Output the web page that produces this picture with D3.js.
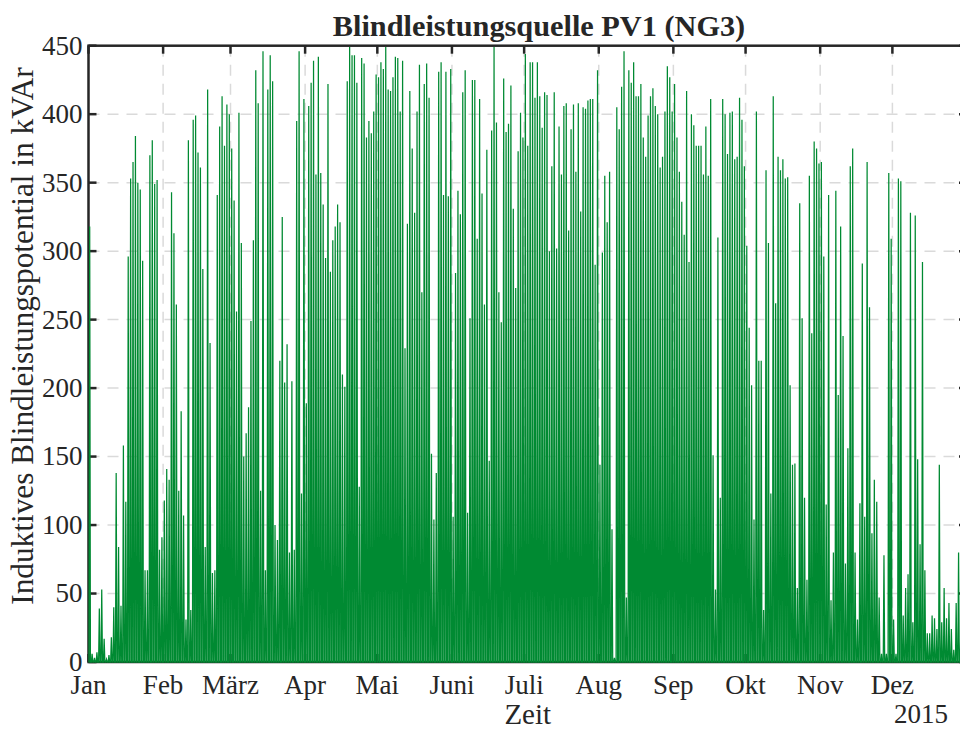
<!DOCTYPE html>
<html>
<head>
<meta charset="utf-8">
<script src="https://cdn.jsdelivr.net/npm/d3@7/dist/d3.min.js"></script>
<style>
  body { margin: 0; background: #ffffff; }
  svg { display: block; }
  text { font-family: "Liberation Serif", "Times New Roman", serif; fill: #262626; }
</style>
</head>
<body>
<svg id="chart" width="960" height="730"></svg>
<script>
// ---------- data ----------
const titleText = "Blindleistungsquelle PV1 (NG3)";
const yLabelText = "Induktives Blindleistungspotential in kVAr";
const xLabelText = "Zeit";
const yearLabel = "2015";

const monthLabels = ["Jan", "Feb", "März", "Apr", "Mai", "Juni", "Juli", "Aug", "Sep", "Okt", "Nov", "Dez"];
const monthStartDays = [0, 31, 59, 90, 120, 151, 181, 212, 243, 273, 304, 334];
const yTicks = [0, 50, 100, 150, 200, 250, 300, 350, 400, 450];

// daily peak of the inductive reactive power potential (kVAr)
const peaksJan = [318, 6, 3, 7, 39, 53, 17, 2, 5, 18, 40, 138, 84, 41, 158, 117, 296, 353, 365, 384, 350, 345, 293, 67, 67, 370, 381, 349, 352, 82, 91];
const peaksFeb = [118, 141, 133, 343, 313, 261, 125, 183, 107, 31, 381, 38, 396, 399, 372, 361, 287, 84, 418, 233, 65, 67, 341, 391, 413, 377, 407, 400];
const peaksMar = [375, 337, 256, 401, 306, 150, 167, 186, 249, 308, 432, 408, 125, 446, 67, 418, 443, 424, 100, 89, 220, 325, 204, 232, 80, 205, 82, 395, 446, 123, 411];
const peaksApr = [189, 406, 423, 439, 356, 442, 357, 334, 295, 422, 285, 308, 318, 334, 321, 210, 201, 424, 449, 443, 443, 423, 128, 441, 437, 383, 395, 386, 402, 429];
const peaksMai = [427, 438, 433, 449, 418, 417, 427, 442, 441, 402, 439, 229, 320, 417, 375, 328, 402, 436, 270, 422, 437, 412, 152, 104, 138, 431, 438, 341, 431, 340, 433];
const peaksJun = [106, 284, 344, 327, 416, 432, 109, 251, 425, 425, 309, 411, 342, 261, 374, 147, 388, 449, 394, 270, 248, 426, 387, 393, 421, 331, 273, 373, 401, 383];
const peaksJul = [444, 377, 438, 438, 412, 438, 413, 390, 416, 414, 300, 362, 416, 302, 391, 356, 406, 408, 315, 389, 407, 358, 408, 329, 405, 404, 410, 411, 411, 290, 432];
const peaksAug = [144, 299, 355, 321, 358, 97, 3, 405, 389, 420, 446, 47, 432, 423, 438, 413, 413, 422, 383, 369, 399, 413, 419, 406, 400, 361, 369, 402, 435, 427, 402];
const peaksSep = [422, 383, 358, 336, 312, 417, 292, 400, 392, 377, 377, 377, 356, 391, 355, 411, 151, 53, 310, 120, 411, 400, 371, 401, 402, 367, 369, 412, 396, 362];
const peaksOkt = [304, 244, 202, 104, 402, 220, 220, 38, 359, 306, 123, 413, 262, 369, 359, 367, 353, 354, 202, 144, 145, 54, 335, 251, 120, 60, 355, 240, 380, 375, 364];
const peaksNov = [365, 296, 115, 341, 45, 80, 344, 195, 318, 238, 72, 156, 362, 375, 80, 31, 116, 291, 106, 365, 259, 94, 133, 117, 47, 6, 78, 6, 357, 309];
const peaksDez = [31, 6, 353, 351, 34, 54, 64, 328, 29, 326, 148, 86, 292, 67, 21, 21, 34, 32, 24, 144, 29, 54, 32, 43, 24, 9, 43, 80, 30, 20, 15];

// ---------- layout ----------
const W = 960, H = 730;
const mLeft = 88.5, mRight = 967, mTop = 45.7, mBottom = 662;
const green = "#008a32";
const axisColor = "#262626";
const gridColor = "#dadada";

const daily = [].concat(peaksJan, peaksFeb, peaksMar, peaksApr, peaksMai, peaksJun,
                        peaksJul, peaksAug, peaksSep, peaksOkt, peaksNov, peaksDez);

const x = d3.scaleLinear().domain([0, 365]).range([mLeft, mRight]);
const y = d3.scaleLinear().domain([0, 450]).range([mBottom, mTop]);

const svg = d3.select("#chart");
svg.append("rect").attr("width", W).attr("height", H).attr("fill", "#fff");

svg.append("defs").append("clipPath").attr("id", "plotclip")
  .append("rect").attr("x", mLeft - 1).attr("y", mTop).attr("width", mRight - mLeft + 2).attr("height", mBottom - mTop + 1.5);

// grid
const grid = svg.append("g").attr("stroke", gridColor).attr("stroke-width", 1.5).attr("stroke-dasharray", "11,8");
grid.selectAll("line.h").data(yTicks.slice(1, -1)).join("line")
  .attr("x1", mLeft).attr("x2", mRight).attr("y1", d => y(d)).attr("y2", d => y(d));
grid.selectAll("line.v").data(monthStartDays.slice(1)).join("line")
  .attr("y1", mTop).attr("y2", mBottom).attr("x1", d => x(d)).attr("x2", d => x(d));

// axes box + ticks
const ax = svg.append("g").attr("stroke", axisColor).attr("stroke-width", 2.5).attr("fill", "none");
ax.append("rect").attr("x", mLeft).attr("y", mTop).attr("width", mRight - mLeft).attr("height", mBottom - mTop);
const tl = 8;
ax.append("g").selectAll("line").data(yTicks).join("line")
  .attr("x1", mLeft).attr("x2", mLeft + tl).attr("y1", d => y(d)).attr("y2", d => y(d));
ax.append("g").selectAll("line").data(yTicks).join("line")
  .attr("x1", mRight).attr("x2", mRight - tl).attr("y1", d => y(d)).attr("y2", d => y(d));
ax.append("g").selectAll("line").data(monthStartDays).join("line")
  .attr("y1", mTop).attr("y2", mTop + tl).attr("x1", d => x(d)).attr("x2", d => x(d));
ax.append("g").selectAll("line").data(monthStartDays).join("line")
  .attr("y1", mBottom).attr("y2", mBottom - tl).attr("x1", d => x(d)).attr("x2", d => x(d));

// data: one narrow daily production hump per day
const pts = [[0, 0]];
daily.forEach((v, d) => {
  pts.push([d + 0.2, 0], [d + 0.5, v], [d + 0.8, 0]);
});
pts.push([365, 0]);
const line = d3.line().x(p => x(p[0])).y(p => y(p[1]));
svg.append("path")
  .attr("clip-path", "url(#plotclip)")
  .attr("d", line(pts))
  .attr("fill", "none")
  .attr("stroke", green)
  .attr("stroke-width", 1.25)
  .attr("stroke-linejoin", "miter");

// tick labels
svg.append("g").selectAll("text").data(yTicks).join("text")
  .attr("x", mLeft - 6).attr("y", d => y(d)).attr("dy", "0.33em")
  .attr("text-anchor", "end").attr("font-size", 27)
  .text(d => d);
svg.append("g").selectAll("text").data(monthStartDays).join("text")
  .attr("x", d => x(d)).attr("y", 694)
  .attr("text-anchor", "middle").attr("font-size", 27)
  .text((d, i) => monthLabels[i]);

svg.append("text").attr("x", 948).attr("y", 723).attr("text-anchor", "end")
  .attr("font-size", 27).text(yearLabel);

svg.append("text").attr("x", (mLeft + mRight) / 2).attr("y", 724).attr("text-anchor", "middle")
  .attr("font-size", 29).text(xLabelText);

svg.append("text").attr("transform", "translate(33,336) rotate(-90)")
  .attr("text-anchor", "middle").attr("font-size", 31.3).text(yLabelText);

svg.append("text").attr("x", 539).attr("y", 36).attr("text-anchor", "middle")
  .attr("font-size", 30.3).attr("font-weight", "bold").text(titleText);
</script>
</body>
</html>
